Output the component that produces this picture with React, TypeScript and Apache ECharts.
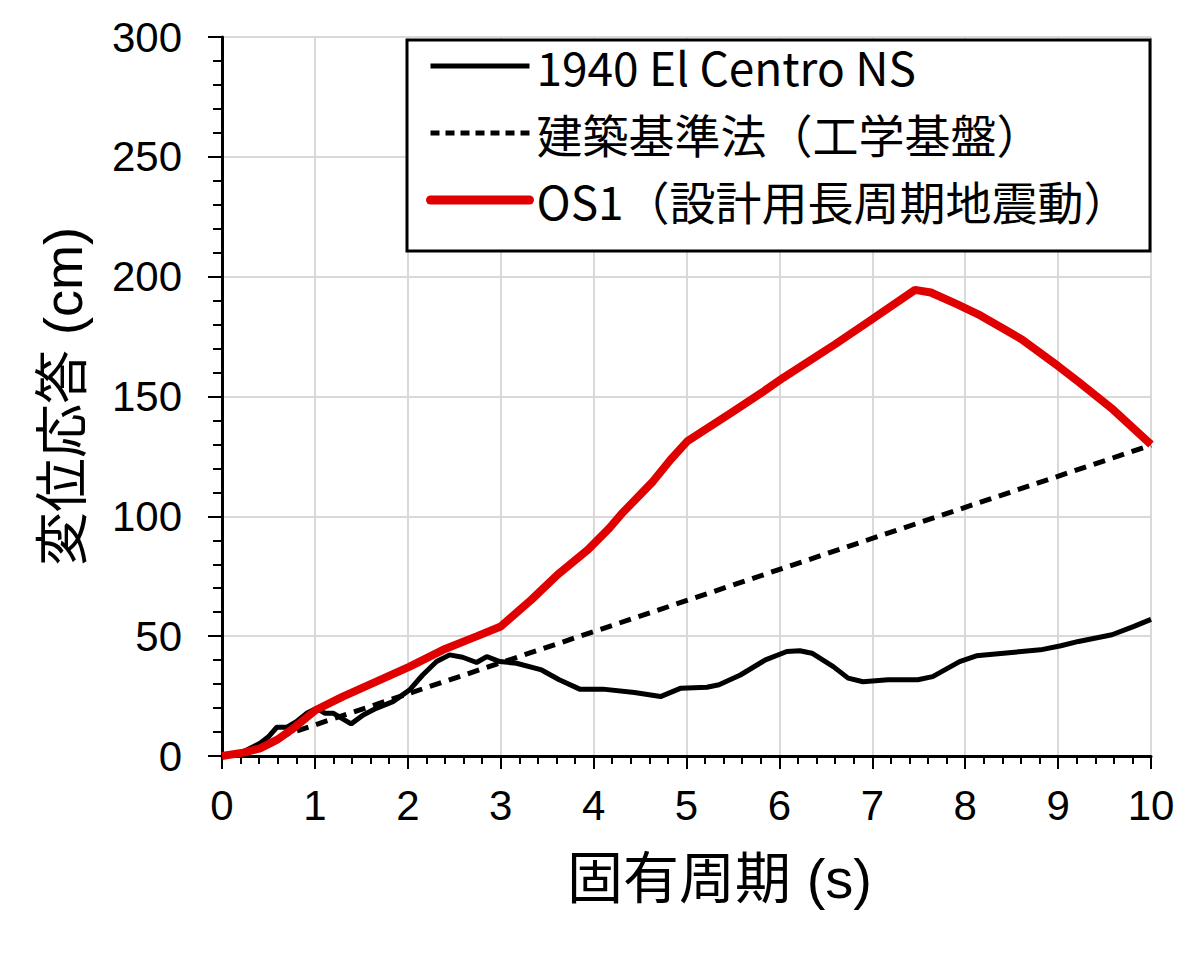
import React, { useEffect, useRef } from "react";
import * as echarts from "echarts";

// 1940 El Centro NS
const elCentroPeriod = [0, 0.23, 0.41, 0.5, 0.59, 0.7, 0.8, 0.91, 1.02, 1.11, 1.2, 1.29, 1.39, 1.52, 1.66, 1.84, 2.02, 2.16, 2.31, 2.45, 2.59, 2.74, 2.85, 2.99, 3.17, 3.44, 3.63, 3.85, 4.1, 4.44, 4.72, 4.94, 5.22, 5.35, 5.58, 5.85, 6.08, 6.22, 6.35, 6.58, 6.74, 6.9, 7.17, 7.49, 7.65, 7.94, 8.12, 8.53, 8.81, 9.03, 9.22, 9.58, 9.81, 10];
const elCentroDisp = [0, 1.8, 5.3, 8, 12, 12, 14.3, 17.8, 19.9, 17.8, 17.8, 15.7, 13.4, 17.1, 19.9, 22.7, 27.6, 33.8, 39.4, 42.2, 41.2, 39, 41.5, 39.4, 38.7, 35.9, 31.8, 27.9, 27.9, 26.5, 24.8, 28.3, 28.7, 29.7, 33.8, 40.1, 43.6, 43.9, 42.9, 37.3, 32.5, 31, 31.8, 31.8, 33.1, 39.4, 41.8, 43.3, 44.3, 46, 47.8, 50.6, 54, 57];

// 建築基準法（工学基盤）
const codePeriod = [0, 0.2, 0.4, 0.64, 10];
const codeDisp = [0, 0.8, 3.2, 8.3, 129.7];

// OS1（設計用長周期地震動）
const os1Period = [0, 0.23, 0.41, 0.59, 0.77, 1.01, 1.3, 1.66, 2.02, 2.38, 2.74, 3.0, 3.33, 3.61, 3.94, 4.17, 4.31, 4.64, 4.83, 5.01, 5.48, 5.81, 6.04, 6.6, 6.97, 7.46, 7.63, 7.91, 8.14, 8.61, 9.0, 9.21, 9.59, 10];
const os1Disp = [0, 1.4, 3.2, 6.7, 11.6, 19.2, 24.8, 31, 37.3, 44.3, 49.9, 54, 65.2, 75.6, 86.1, 95.1, 101.4, 114.6, 123.7, 131.4, 143.2, 151.6, 157.8, 171.8, 181.5, 194.5, 193.4, 188.5, 184.3, 173.8, 162.7, 156.4, 144.6, 130];

const seriesNames = ["1940 El Centro NS", "建築基準法（工学基盤）", "OS1（設計用長周期地震動）"];

const latinFont = "'Liberation Sans', Arial, 'Noto Sans CJK JP', sans-serif";
const jpFont = "'Noto Sans CJK JP', 'Liberation Sans', sans-serif";

const RED = "#e00000";

const pairs = (xs: number[], ys: number[]) => xs.map((x, i) => [x, ys[i]]);

const App: React.FC = () => {
  const chartRef = useRef<HTMLDivElement>(null);

  useEffect(() => {
    if (!chartRef.current) return undefined;
    const chart = echarts.init(chartRef.current, undefined, { renderer: "svg" });

    const options: echarts.EChartsOption = {
      animation: false,
      backgroundColor: "#fff",
      grid: { left: 222, right: 49, top: 37, bottom: 202 },
      xAxis: {
        type: "value",
        min: 0,
        max: 10,
        interval: 1,
        name: "固有周期 (s)",
        nameLocation: "middle",
        nameGap: 94,
        nameTextStyle: { fontSize: 56, color: "#000", fontFamily: latinFont, padding: [0, 0, 0, 66] },
        axisLine: { lineStyle: { color: "#000", width: 3 } },
        axisTick: { length: 13, lineStyle: { color: "#000", width: 2 } },
        minorTick: { show: true, splitNumber: 5, length: 8, lineStyle: { color: "#000", width: 2 } },
        axisLabel: { fontSize: 42, color: "#000", margin: 28, fontFamily: latinFont },
        splitLine: { show: true, lineStyle: { color: "#d9d9d9", width: 2 } },
      },
      yAxis: {
        type: "value",
        min: 0,
        max: 300,
        interval: 50,
        name: "変位応答 (cm)",
        nameLocation: "middle",
        nameGap: 132,
        nameTextStyle: { fontSize: 54, color: "#000", fontFamily: latinFont },
        axisLine: { show: true, lineStyle: { color: "#000", width: 3 } },
        axisTick: { show: true, length: 14, lineStyle: { color: "#000", width: 2 } },
        minorTick: { show: true, splitNumber: 5, length: 9, lineStyle: { color: "#000", width: 2 } },
        axisLabel: { fontSize: 42, color: "#000", margin: 40, fontFamily: latinFont },
        splitLine: { show: true, lineStyle: { color: "#d9d9d9", width: 2 } },
      },
      graphic: [
        {
          type: "rect",
          z: 3,
          shape: { x: 407, y: 40, width: 743, height: 211 },
          style: { fill: "#fff", stroke: "#000", lineWidth: 3 },
        },
      ],
      legend: {
        orient: "vertical",
        left: 421,
        top: 38,
        z: 5,
        itemWidth: 99,
        itemHeight: 20,
        itemGap: 21,
        itemStyle: { opacity: 0 },
        data: [
          { name: seriesNames[0], lineStyle: { color: "#000", width: 5 } },
          { name: seriesNames[1], lineStyle: { color: "#000", width: 5, type: [9, 6] } },
          { name: seriesNames[2], lineStyle: { color: RED, width: 9, cap: "round" } },
        ],
        textStyle: {
          fontSize: 46,
          color: "#000",
          fontFamily: jpFont,
          padding: [0, 0, 0, 2],
        },
      },
      series: [
        {
          name: seriesNames[0],
          type: "line",
          symbol: "none",
          data: pairs(elCentroPeriod, elCentroDisp),
          lineStyle: { color: "#000", width: 5 },
          itemStyle: { color: "#000" },
        },
        {
          name: seriesNames[1],
          type: "line",
          symbol: "none",
          data: pairs(codePeriod, codeDisp),
          lineStyle: { color: "#000", width: 5, type: [12, 8] },
          itemStyle: { color: "#000" },
        },
        {
          name: seriesNames[2],
          type: "line",
          symbol: "none",
          data: pairs(os1Period, os1Disp),
          lineStyle: { color: RED, width: 8 },
          itemStyle: { color: RED },
        },
      ],
    };
    chart.setOption(options);

    return () => {
      chart.dispose();
    };
  }, []);

  return (
    <div
      ref={chartRef}
      style={{ position: "absolute", left: 0, top: 0, width: "1200px", height: "958px" }}
    />
  );
};

export default App;
